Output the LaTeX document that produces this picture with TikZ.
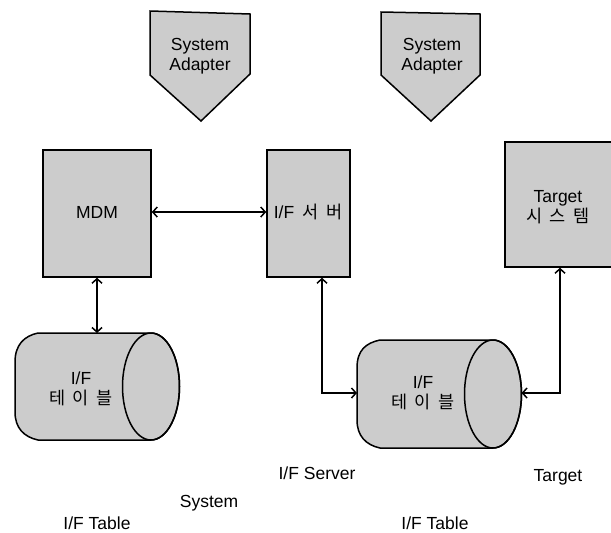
\documentclass[tikz,border=0pt]{standalone}
\usepackage{fontspec}
\setmainfont{Liberation Sans}
\newfontfamily\kr[WordSpace=2]{Noto Sans CJK KR}
\usetikzlibrary{arrows.meta}
\definecolor{boxgray}{RGB}{204,204,204}
\begin{document}
\begin{tikzpicture}[x=1pt,y=-1pt,
  shapefill/.style={fill=boxgray,draw=black,line width=1.5pt},
  boxnode/.style={shapefill,inner sep=0pt},
  lbl/.style={font=\fontsize{17.5}{20.5}\selectfont,align=center,inner sep=0pt},
  link/.style={line width=1.5pt,{Straight Barb[length=4.5pt,width=10pt]}-{Straight Barb[length=4.5pt,width=10pt]}}]
\clip (0,0) rectangle (611,533);
\fill[white] (0,0) rectangle (611,533);

% System adapters
\draw[shapefill] (150,11) -- (250,14) -- (250,74) -- (201,121) -- (150,75) -- cycle;
\node[lbl] (sa1) at (200,56) {System\\Adapter};
\draw[shapefill] (381,12) -- (480,14) -- (480,75) -- (431,121) -- (381,75) -- cycle;
\node[lbl] (sa2) at (432,56) {System\\Adapter};

% boxes
\node[boxnode,minimum width=108pt,minimum height=127pt] (mdm) at (97,213.5) {};
\node[lbl] (mdmtext) at (97,212) {MDM};
\node[boxnode,minimum width=83pt,minimum height=127pt] (ifs) at (308.5,213.5) {};
\node[lbl] (ifstext) at (308,212) {I/F{\kr\ 서 버}};
\node[boxnode,minimum width=120pt,minimum height=125pt] (tgt) at (565,204.5) {};
\node[lbl] (tgttext) at (558,207) {Target\\{\kr 시 스 템}};

% cylinder 1
\path[shapefill] (38,333) -- (151,333) .. controls (166.74,333) and (179.5,356.95) .. (179.5,386.5)
  .. controls (179.5,416.05) and (166.74,440) .. (151,440) -- (38,440)
  .. controls (24,437) and (15,428) .. (15,412) -- (15,362)
  .. controls (15,345) and (24,336) .. (38,333) -- cycle;
\draw[line width=1.5pt] (151,386.5) ellipse [x radius=28.5, y radius=53.5];
\node[lbl] (c1text) at (81,389) {I/F\\{\kr 테 이 블}};
\coordinate (c1top) at (97,333);

% cylinder 2
\path[shapefill] (380,340) -- (493,340) .. controls (508.74,340) and (521.5,364.18) .. (521.5,394)
  .. controls (521.5,423.82) and (508.74,448) .. (493,448) -- (380,448)
  .. controls (366,445) and (357,436) .. (357,420) -- (357,368)
  .. controls (357,350) and (366,343) .. (380,340) -- cycle;
\draw[line width=1.5pt] (493,394) ellipse [x radius=28.5, y radius=54];
\node[lbl] (c2text) at (423,393) {I/F\\{\kr 테 이 블}};
\coordinate (c2left) at (357,393);
\coordinate (c2right) at (521.5,393);

% connectors
\draw[link] (mdm.east |- 0,212) -- (ifs.west |- 0,212);
\draw[link] (mdm.south) -- (c1top);
\draw[link] ([xshift=13.5pt]ifs.south) |- (c2left);
\draw[link] ([xshift=-5pt]tgt.south) |- (c2right);

% bottom labels
\node[lbl] (l1) at (317,473) {I/F Server};
\node[lbl] (l2) at (558,477) {Target};
\node[lbl] (l3) at (209,503) {System};
\node[lbl] (l4) at (97,523) {I/F Table};
\node[lbl] (l5) at (435,523) {I/F Table};
\end{tikzpicture}
\end{document}
